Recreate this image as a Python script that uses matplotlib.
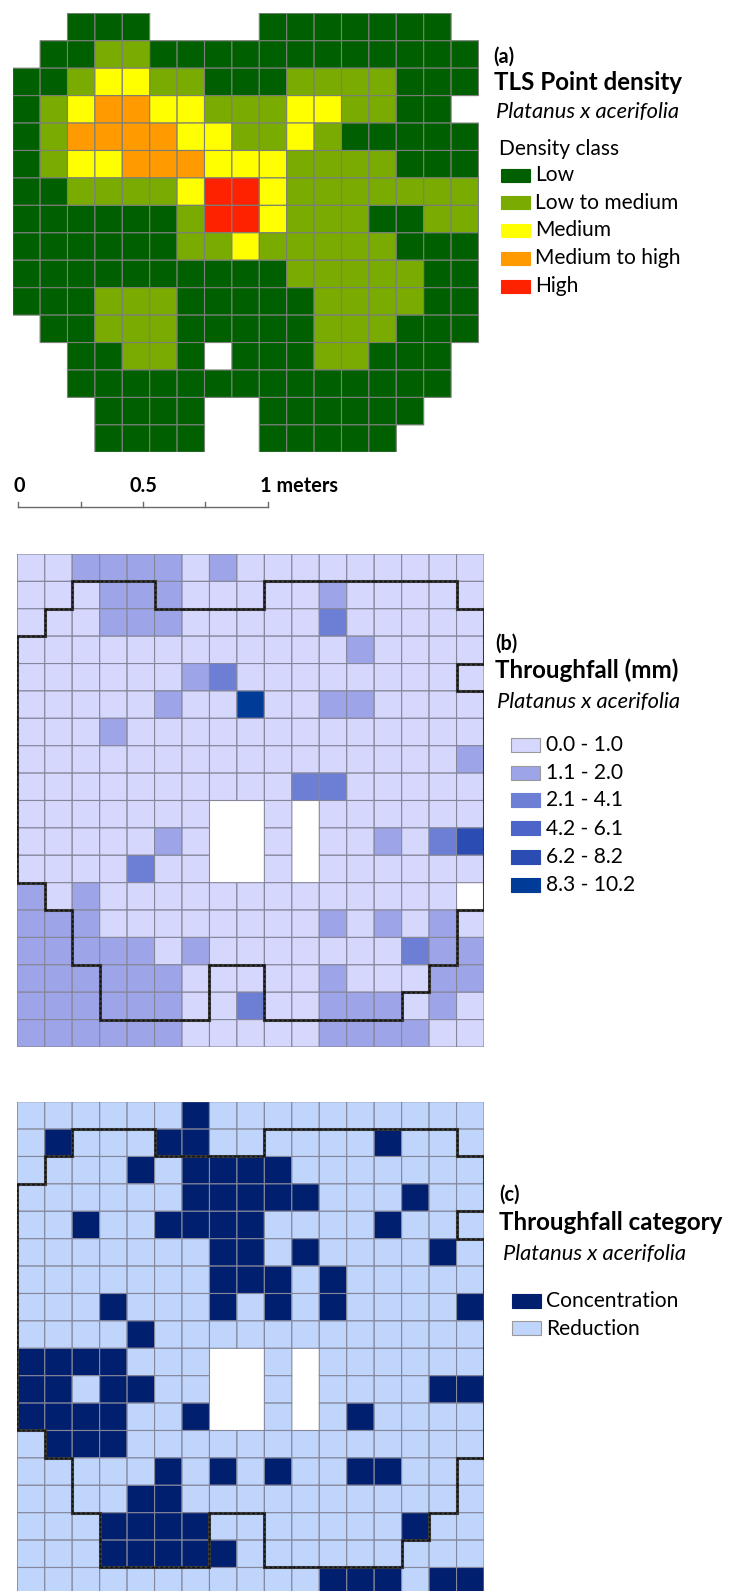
import numpy as np
import matplotlib
matplotlib.use("Agg")
import matplotlib.pyplot as plt
from matplotlib.colors import ListedColormap, BoundaryNorm
from matplotlib.patches import Rectangle
from matplotlib.collections import LineCollection

plt.rcParams['font.family'] = ['Lato', 'DejaVu Sans']

# (a) TLS point density class per cell, '.' = no data
density_rows = [
    "..111....1111111.",
    ".1122111111111111",
    "11233221112222111",
    "1234433222332211.",
    "12444433223211111",
    "12334443332222111",
    "11222235532222222",
    "11111125532221122",
    "11111122322222111",
    "11111111112222211",
    "11122211111222211",
    ".1122211111222111",
    "..11221.11122111.",
    "..11111111111111.",
    "...1111..111111..",
    "...1111..11111...",
]
density_labels = ["Low", "Low to medium", "Medium", "Medium to high", "High"]
density_colors = ["#006000", "#7aab00", "#ffff00", "#ff9a00", "#ff2200"]

# (b) throughfall class per cell (1..6)
tf_rows = [
    "11222212111111111",
    "11122211111211111",
    "11122211111311111",
    "11111111111121111",
    "11111123111111111",
    "11111211611221111",
    "11121111111111111",
    "11111111111111112",
    "11111111113311111",
    "1111111..1.111111",
    "1111121..1.112135",
    "1111311..1.111111",
    "2121111111111111.",
    "22211111111212121",
    "22222121111111322",
    "22222211111211122",
    "22222211311222121",
    "22222211111222211",
]
tf_labels = ["0.0 - 1.0", "1.1 - 2.0", "2.1 - 4.1", "4.2 - 6.1", "6.2 - 8.2", "8.3 - 10.2"]
tf_colors = ["#d6d7fc", "#9da5e8", "#6c7fd4", "#4b65c9", "#2a4cb3", "#003b98"]

# (c) throughfall category: 1 = concentration, 0 = reduction
cat_rows = [
    "00000010000000000",
    "01000110000001000",
    "00001011110000000",
    "00000011111000100",
    "00100111100001000",
    "00000001101000010",
    "00000001110100000",
    "00010001010100001",
    "00001000000000000",
    "1111000..0.000000",
    "1101100..0.000011",
    "1111001..0.010000",
    "01110000000000000",
    "00000101010011000",
    "00001100000000000",
    "00011110000000100",
    "00011111000000000",
    "00000000000111011",
]
cat_labels = ["Concentration", "Reduction"]
cat_colors = ["#00206f", "#bfd5fb"]

scale_ticks = [0, 0.25, 0.5, 0.75, 1.0]
scale_labels = {0: "0", 0.5: "0.5", 1.0: "1 meters"}


def to_grid(rows):
    g = np.array([[np.nan if ch == '.' else float(ch) for ch in r] for r in rows])
    return np.ma.masked_invalid(g)


W, H = 732, 1591
fig = plt.figure(figsize=(W / 100, H / 100), dpi=100)
renderer = fig.canvas.get_renderer()


def px_axes(x0, y0, x1, y1):
    return fig.add_axes([x0 / W, 1 - y1 / H, (x1 - x0) / W, (y1 - y0) / H])


def draw_grid(ax, grid, colors, vmin, edge):
    nr, nc = grid.shape
    cmap = ListedColormap(colors)
    norm = BoundaryNorm(np.arange(vmin - 0.5, vmin + len(colors)), len(colors))
    # pcolor drops masked cells completely (no fill, no edge)
    ax.pcolor(np.arange(nc + 1), np.arange(nr + 1), grid, cmap=cmap, norm=norm,
              edgecolors=edge, linewidth=0.8)
    ax.set_xlim(0, nc)
    ax.set_ylim(nr, 0)
    ax.axis('off')


def crown_mask(mask):
    # footprint with enclosed holes filled
    nr, nc = mask.shape
    m = np.zeros((nr + 2, nc + 2), bool)
    m[1:-1, 1:-1] = mask
    outside = np.zeros_like(m)
    stack = [(0, 0)]
    while stack:
        r, c = stack.pop()
        if r < 0 or c < 0 or r >= nr + 2 or c >= nc + 2 or outside[r, c] or m[r, c]:
            continue
        outside[r, c] = True
        stack += [(r + 1, c), (r - 1, c), (r, c + 1), (r, c - 1)]
    return ~outside


def draw_outline(ax, mask, row_off):
    m = crown_mask(mask)
    nr, nc = mask.shape
    segs = []
    for r in range(nr + 1):
        for c in range(nc + 1):
            if c < nc and m[r, c + 1] != m[r + 1, c + 1]:
                segs.append([(c, r + row_off), (c + 1, r + row_off)])
            if r < nr and m[r + 1, c] != m[r + 1, c + 1]:
                segs.append([(c, r + row_off), (c, r + 1 + row_off)])
    ax.add_collection(LineCollection(segs, colors="#3a3a3a", linewidths=2.2,
                                     capstyle='projecting', zorder=5))
    ax.add_collection(LineCollection(segs, colors="#111111", linewidths=1.0,
                                     linestyles=(0, (2, 1.5)), zorder=6))


dens = to_grid(density_rows)
tf = to_grid(tf_rows)
cat = to_grid(cat_rows)
foot = ~np.ma.getmaskarray(dens)

ax_a = px_axes(12.7, 13.3, 478.5, 452.3)
draw_grid(ax_a, dens, density_colors, 1, "#7a7f7a")

ax_b = px_axes(17.3, 554, 484, 1047)
draw_grid(ax_b, tf, tf_colors, 1, "#85869a")
draw_outline(ax_b, foot, 1)

ax_c = px_axes(17.3, 1101.7, 484, 1594.9)
draw_grid(ax_c, cat, cat_colors[::-1], 0, "#85869a")
draw_outline(ax_c, foot, 1)

# overlay in pixel coordinates for legends and scale bar
ov = fig.add_axes([0, 0, 1, 1], zorder=10)
ov.set_xlim(0, W)
ov.set_ylim(H, 0)
ov.axis('off')
ov.patch.set_alpha(0)


def fit_size(s, target, **kw):
    t = fig.text(0, 0, s, fontsize=20, **kw)
    w = t.get_window_extent(renderer).width
    t.remove()
    return 20 * target / w


fs_tag = fit_size("(a)", 21, fontweight='bold')
fs_title = fit_size("TLS Point density", 188, fontweight='bold')
fs_sub = fit_size("Platanus x acerifolia", 183, style='italic')
fs_lab = fit_size("Low to medium", 144)
fs_scale = fit_size("0.5", 28, fontweight='bold')


def legend_block(tag, x, tag_y, title, title_y, sub_x, sub_y, px0, px1, ph, label_x, ys,
                 labels, colors, light=(), head=None):
    ov.text(x, tag_y, tag, fontsize=fs_tag, fontweight='bold', va='baseline')
    ov.text(x, title_y, title, fontsize=fs_title, fontweight='bold', va='baseline')
    ov.text(sub_x, sub_y, "Platanus x acerifolia", fontsize=fs_sub, style='italic', va='baseline')
    if head:
        ov.text(head[0], head[1], head[2], fontsize=fs_lab, va='baseline')
    for y, lab, col in zip(ys, labels, colors):
        ov.add_patch(Rectangle((px0, y - ph / 2), px1 - px0, ph, facecolor=col,
                               edgecolor="#9a9a9a" if col in light else col, linewidth=0.8))
        ov.text(label_x, y + 6.3, lab, fontsize=fs_lab, va='baseline')


legend_block("(a)", 493.5, 62.7, "TLS Point density", 90, 496, 118.3, 500.7, 530, 13, 535,
             [175, 202.3, 230, 258, 286], density_labels, density_colors,
             head=(499, 155, "Density class"))
legend_block("(b)", 495, 650, "Throughfall (mm)", 678.3, 497, 708.3, 510.7, 540, 14, 546,
             [745, 772.7, 800, 828.3, 856.7, 885], tf_labels, tf_colors,
             light=(tf_colors[0], tf_colors[1]))
legend_block("(c)", 499, 1200.7, "Throughfall category", 1230, 503, 1260, 511.7, 540.7, 14, 546,
             [1300.7, 1328.4], cat_labels, cat_colors, light=(cat_colors[1],))

# scale bar
x0, px_per_m, ybar = 18.3, 249.4, 506.7
ov.plot([x0, x0 + px_per_m], [ybar, ybar], color="#6a6a6a", lw=1.0)
for t in scale_ticks:
    xt = x0 + t * px_per_m
    ov.plot([xt, xt], [ybar, ybar - 4.5], color="#6a6a6a", lw=1.0)
    if t in scale_labels:
        ha = 'left' if t == 1.0 else 'center'
        ov.text(xt - (8 if t == 1.0 else -0.5), 491.7, scale_labels[t], fontsize=fs_scale,
                fontweight='bold', ha=ha, va='baseline')

fig.savefig("out.png", dpi=100)
